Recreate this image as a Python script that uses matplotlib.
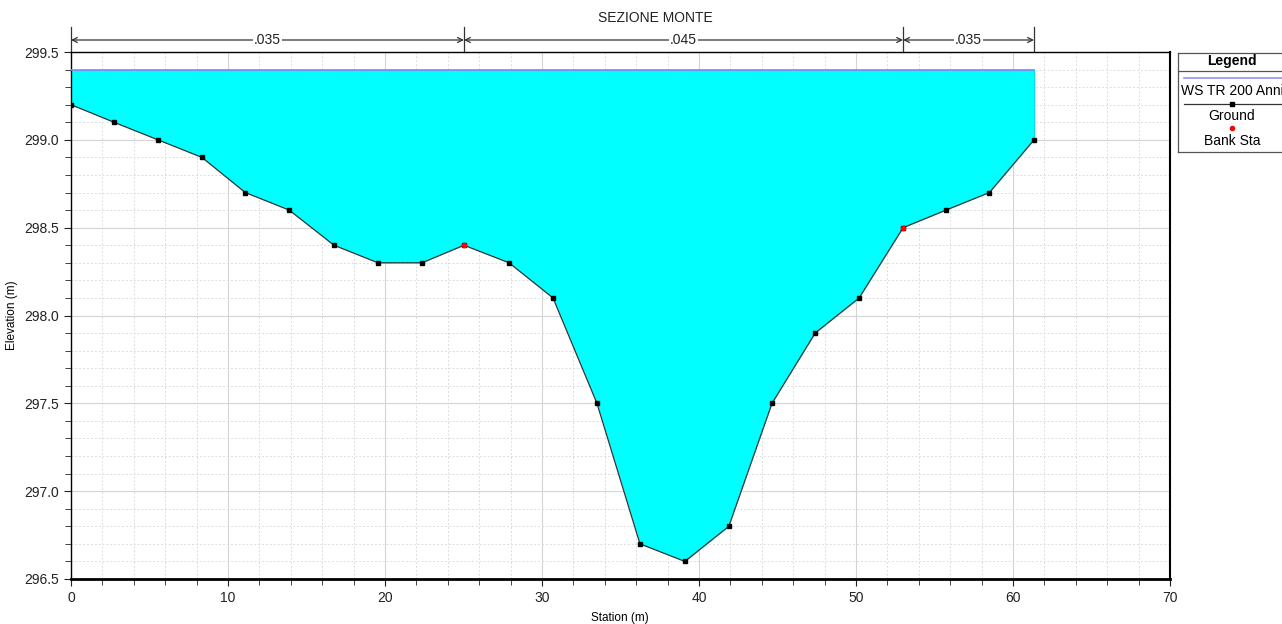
import numpy as np
import matplotlib.pyplot as plt
from matplotlib.ticker import MultipleLocator, FormatStrFormatter
import matplotlib.transforms as mtrans

plt.rcParams['font.family'] = ['Liberation Sans', 'DejaVu Sans']

# ---- data ----
station = [0.0, 2.74, 5.54, 8.34, 11.1, 13.9, 16.75, 19.55, 22.36, 25.03,
           27.9, 30.7, 33.5, 36.24, 39.1, 41.9, 44.65, 47.4, 50.2, 53.0,
           55.73, 58.5, 61.34]
elevation = [299.2, 299.1, 299.0, 298.9, 298.7, 298.6, 298.4, 298.3, 298.3, 298.4,
             298.3, 298.1, 297.5, 296.7, 296.6, 296.8, 297.5, 297.9, 298.1, 298.5,
             298.6, 298.7, 299.0]
bank_sta = [25.03, 53.0]
bank_elev = [298.4, 298.5]
ws_elev = 299.4
n_bounds = [0.0, 25.03, 53.0, 61.34]
n_values = ['.035', '.045', '.035']
title = 'SEZIONE MONTE'

fig = plt.figure(figsize=(12.82, 6.24), dpi=100)
ax = fig.add_axes([71/1282, 1-579/624, (1170-71)/1282, (579-52)/624])

st = np.array(station)
el = np.array(elevation)
ax.fill_between(st, el, ws_elev, where=el <= ws_elev, color='#00ffff', lw=0, zorder=2)
ax.plot([st[0], st[-1]], [ws_elev, ws_elev], color='#8080ff', lw=1.2, zorder=3)
ax.plot([st[-1], st[-1]], [el[-1], ws_elev], color='#00e0e0', lw=0.8, zorder=3)
ax.plot(st, el, color='#333333', lw=0.9, marker='s', ms=2.5, mfc='black', mec='black', zorder=4)
ax.plot(bank_sta, bank_elev, ls='none', marker='o', ms=3, color='red', zorder=5)

ax.set_xlim(0, 70)
ax.set_ylim(296.5, 299.5)
ax.xaxis.set_major_locator(MultipleLocator(10))
ax.xaxis.set_minor_locator(MultipleLocator(2))
ax.yaxis.set_major_locator(MultipleLocator(0.5))
ax.yaxis.set_minor_locator(MultipleLocator(0.1))
ax.yaxis.set_major_formatter(FormatStrFormatter('%.1f'))
ax.grid(which='major', color='#d4d4d4', lw=0.8, zorder=0)
ax.grid(which='minor', color='#dcdcdc', lw=0.7, ls=(0, (2, 2)), zorder=0)
ax.set_axisbelow(True)
ax.tick_params(which='both', direction='out', labelsize=10, colors='#222222')
ax.tick_params(which='major', length=5)
ax.tick_params(which='minor', length=4)
for s in ax.spines.values():
    s.set_color('black')
    s.set_linewidth(1.0)
ax.spines['bottom'].set_linewidth(2)
ax.spines['right'].set_linewidth(1.5)
ax.set_xlabel('Station (m)', fontsize=8.5)
ax.set_ylabel('Elevation (m)', fontsize=8.5)
ax.xaxis.set_label_coords((620-71)/1099, (579-612)/527)
ax.yaxis.set_label_coords((18-71)/1099, 0.5)

# Manning's n bar above the plot
tr = mtrans.blended_transform_factory(ax.transData, ax.transAxes)
y_arr = 1 + 12/527
for b in n_bounds:
    ax.plot([b, b], [1.0, 1 + 25/527], transform=tr, color='#333333', lw=0.9, clip_on=False)
for a, b, lab in zip(n_bounds[:-1], n_bounds[1:], n_values):
    ax.annotate('', xy=(a, y_arr), xytext=(b, y_arr), xycoords=tr, textcoords=tr,
                arrowprops=dict(arrowstyle='<->', color='#333333', lw=0.9,
                                shrinkA=0, shrinkB=0, mutation_scale=9))
    ax.text((a + b) / 2, y_arr, lab, transform=tr, ha='center', va='center', fontsize=10,
            color='#222222', bbox=dict(fc='white', ec='none', pad=1))
fig.text(655/1282, 1-18/624, title, ha='center', va='center', fontsize=10, color='#222222')

# legend box
lx0 = 1178
lw_px = 1290 - lx0
lax = fig.add_axes([lx0/1282, 1-152/624, lw_px/1282, 99/624])
lax.set_xlim(0, lw_px)
lax.set_ylim(99, 0)
lax.set_xticks([])
lax.set_yticks([])
for s in lax.spines.values():
    s.set_color('#555555')
    s.set_linewidth(0.9)
cx = 1232 - lx0
lax.text(cx, 8, 'Legend', ha='center', va='center', fontsize=10, fontweight='bold')
lax.plot([0, lw_px], [18, 18], color='#555555', lw=0.9)
lax.plot([6, lw_px], [25, 25], color='#9090ff', lw=1.2)
lax.text(cx, 38, 'WS TR 200 Anni', ha='center', va='center', fontsize=10)
lax.plot([6, lw_px], [51, 51], color='#333333', lw=0.9)
lax.plot([cx], [51], marker='s', ms=2.5, color='black')
lax.text(cx, 63, 'Ground', ha='center', va='center', fontsize=10)
lax.plot([cx], [75], marker='o', ms=3, color='red', ls='none')
lax.text(cx, 88, 'Bank Sta', ha='center', va='center', fontsize=10)

fig.savefig('out.png', dpi=100)
